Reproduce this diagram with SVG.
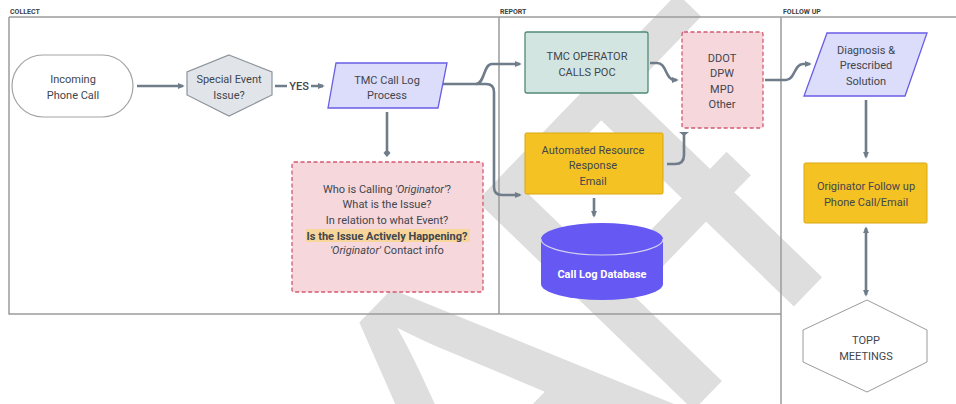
<svg xmlns="http://www.w3.org/2000/svg" width="956" height="404" viewBox="0 0 956 404">
<defs>
<style>
.t{font-family:Roboto,"Liberation Sans",sans-serif;font-size:11px;fill:#41464d;text-anchor:middle}
.lane{font-family:Roboto,"Liberation Sans",sans-serif;font-size:7px;font-weight:bold;fill:#3a3f45}
.ln{stroke:#9c9c9c;stroke-width:1.5;fill:none}
.c{stroke:#6f7c89;stroke-width:2.6;fill:none;stroke-linejoin:round}
.pink{fill:#f6d7dc;stroke:#d35a70;stroke-width:1.3;stroke-dasharray:4 2.5}
.wm{font-family:"Liberation Sans",Arial,sans-serif;font-size:438px;fill:#dedede}
</style>
<marker id="ah" viewBox="0 0 8 8" refX="6" refY="4" markerWidth="7" markerHeight="7" markerUnits="userSpaceOnUse" orient="auto-start-reverse"><path d="M0,0.5 L8,4 L0,7.5 z" fill="#6f7c89"/></marker>
<marker id="dm" viewBox="0 0 8 8" refX="1" refY="4" markerWidth="8" markerHeight="8" markerUnits="userSpaceOnUse" orient="auto"><path d="M0,4 L4,0.5 L8,4 L4,7.5 z" fill="#6f7c89"/></marker>
<marker id="tb" viewBox="0 0 10 6" refX="5" refY="2" markerWidth="10" markerHeight="6" markerUnits="userSpaceOnUse" orient="0"><path d="M0,0 H10 L5,4 z" fill="#6f7c89"/></marker>
</defs>
<rect width="956" height="404" fill="#ffffff"/>
<g id="watermark">
<text class="wm" transform="translate(591.5,516) rotate(-46)" x="-778 -462 -146 111 178" y="0">DRAFT</text>
</g>
<g id="lanes">
<path class="ln" d="M9,17 H956 M9,17 V314 H781 M499,17 V314 M781,17 V404"/>
<text class="lane" x="10" y="14">COLLECT</text>
<text class="lane" x="500" y="14">REPORT</text>
<text class="lane" x="783" y="14">FOLLOW UP</text>
</g>
<g id="connectors">
<path class="c" d="M137,86 H183" marker-end="url(#ah)"/>
<path class="c" d="M275,86 H287 M311,86 H323" />
<path class="c" d="M318,86 H323" marker-end="url(#ah)"/>
<text x="299" y="90" class="t" style="font-weight:500">YES</text>
<path class="c" d="M443,84 H476 C485,84 483,64 492,64 H520" marker-end="url(#ah)"/>
<path class="c" d="M476,84 H486 Q494,84 494,92 V187 Q494,195 502,195 H520" marker-end="url(#ah)"/>
<path class="c" d="M387,112 V150" marker-end="url(#dm)"/>
<path class="c" d="M650,63 H657 C667,63 665,80 675,80 H677" marker-end="url(#ah)"/>
<path class="c" d="M667,164 H675 Q684,164 684,155 V134" marker-end="url(#tb)"/>
<path class="c" d="M594,198 V216" marker-end="url(#ah)"/>
<path class="c" d="M765,80 H786 C795,80 794,64 803,64 H810" marker-end="url(#ah)"/>
<path class="c" d="M866,100 V157" marker-end="url(#ah)"/>
<path class="c" d="M866,228 V295" marker-start="url(#ah)" marker-end="url(#ah)"/>
</g>
<g id="incoming">
<rect x="12" y="55" width="121" height="62" rx="31" fill="#ffffff" stroke="#a3a3a3" stroke-width="1.2"/>
<text class="t" x="73" y="83">Incoming</text>
<text class="t" x="73" y="99">Phone Call</text>
</g>
<g id="special">
<path d="M229,55 L272,72 V95 L229,116 L187,95 V72 Z" fill="#e1e5e9" stroke="#8c949c" stroke-width="1.2"/>
<text class="t" x="229" y="83">Special Event</text>
<text class="t" x="229" y="99">Issue?</text>
</g>
<g id="tmc-log">
<path d="M336,63 H447 L438,108 H328 Z" fill="#dcdcfb" stroke="#6a5de6" stroke-width="1.3"/>
<text class="t" x="387" y="84">TMC Call Log</text>
<text class="t" x="387" y="99">Process</text>
</g>
<g id="questions">
<rect class="pink" x="292" y="162" width="191" height="130" rx="2"/>
<rect x="306" y="229" width="164" height="13" fill="#f8d59a"/>
<text class="t" x="387" y="193">Who is Calling <tspan font-style="italic">'Originator'</tspan>?</text>
<text class="t" x="387" y="208">What is the Issue?</text>
<text class="t" x="387" y="224">In relation to what Event?</text>
<text class="t" x="387" y="240" font-weight="bold">Is the Issue Actively Happening?</text>
<text class="t" x="387" y="254"><tspan font-style="italic">'Originator'</tspan> Contact info</text>
</g>
<g id="tmc-operator">
<rect x="525" y="32" width="123" height="61" rx="2" fill="#d3e5e1" stroke="#4f8a76" stroke-width="1.3"/>
<text class="t" x="587" y="60">TMC OPERATOR</text>
<text class="t" x="587" y="76">CALLS POC</text>
</g>
<g id="agencies">
<rect class="pink" x="682" y="32" width="81" height="96" rx="2"/>
<text class="t" x="722" y="62">DDOT</text>
<text class="t" x="722" y="77">DPW</text>
<text class="t" x="722" y="93">MPD</text>
<text class="t" x="722" y="108">Other</text>
</g>
<g id="automated">
<rect x="525" y="133" width="138" height="61" rx="1.5" fill="#f5c224" stroke="#d9a611" stroke-width="1"/>
<text class="t" x="593" y="154">Automated Resource</text>
<text class="t" x="593" y="169">Response</text>
<text class="t" x="593" y="185">Email</text>
</g>
<g id="database">
<path d="M541,239 V284 A61,16 0 0 0 663,284 V239 Z" fill="#6558f3"/>
<ellipse cx="602" cy="239" rx="61" ry="16" fill="#6558f3"/>
<path d="M541,239 A61,16 0 0 0 663,239" fill="none" stroke="#d4d0f0" stroke-width="1.2"/>
<text class="t" x="602" y="278" style="fill:#ffffff;font-weight:bold">Call Log Database</text>
</g>
<g id="diagnosis">
<path d="M827,33 H927 L905,96 H804 Z" fill="#dcdcfb" stroke="#6a5de6" stroke-width="1.3"/>
<text class="t" x="866" y="54">Diagnosis &amp;</text>
<text class="t" x="866" y="69">Prescribed</text>
<text class="t" x="866" y="85">Solution</text>
</g>
<g id="followup">
<rect x="804" y="163" width="123" height="60" rx="1.5" fill="#f5c224" stroke="#d9a611" stroke-width="1"/>
<text class="t" x="866" y="190">Originator Follow up</text>
<text class="t" x="866" y="206">Phone Call/Email</text>
</g>
<g id="topp">
<path d="M867,300 L927,330 V362 L867,392 L803,362 V330 Z" fill="#ffffff" stroke="#9a9a9a" stroke-width="1"/>
<text class="t" x="866" y="344">TOPP</text>
<text class="t" x="866" y="360">MEETINGS</text>
</g>
</svg>
